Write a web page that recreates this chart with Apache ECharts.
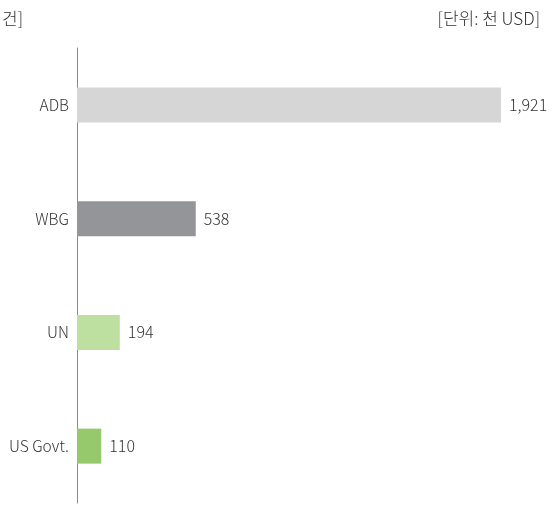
<!DOCTYPE html>
<html>
<head>
<meta charset="utf-8">
<script src="https://cdn.jsdelivr.net/npm/echarts@6/dist/echarts.min.js"></script>
<style>
  html, body { margin: 0; padding: 0; background: #fff; }
  #main { width: 552px; height: 505px; }
</style>
</head>
<body>
<div id="main"></div>
<script>
const categories = ['ADB', 'WBG', 'UN', 'US Govt.'];
const values = [1921, 538, 194, 110];
const colors = ['#d6d6d6', '#939598', '#bddf9f', '#95c96c'];

const font = '"Noto Sans CJK KR", "Noto Sans", sans-serif';
const chart = echarts.init(document.getElementById('main'));

const option = {
  animation: false,
  textStyle: { fontFamily: font },
  title: [
    {
      text: '건]',
      left: -3, top: 5,
      textStyle: { fontSize: 17, fontWeight: 300, color: '#333', fontFamily: font }
    },
    {
      text: '[단위: 천 USD]',
      right: 7, top: 5,
      textStyle: { fontSize: 17, fontWeight: 300, color: '#333', fontFamily: font }
    }
  ],
  grid: { left: 77, top: 48, width: 424, height: 455, containLabel: false },
  xAxis: {
    type: 'value',
    min: 0,
    max: 1921,
    show: false
  },
  yAxis: {
    type: 'category',
    inverse: true,
    data: categories,
    axisLine: { show: true, lineStyle: { color: '#8a8a8a', width: 1 } },
    axisTick: { show: false },
    axisLabel: { color: '#333', fontSize: 15.5, fontWeight: 300, margin: 8, fontFamily: font }
  },
  series: [{
    type: 'bar',
    barWidth: 35,
    data: values.map((v, i) => ({ value: v, itemStyle: { color: colors[i] } })),
    label: {
      show: true,
      position: 'right',
      distance: 8,
      color: '#333',
      fontSize: 16,
      fontWeight: 300,
      fontFamily: font,
      formatter: p => p.value.toLocaleString('en-US')
    }
  }]
};

chart.setOption(option);
</script>
</body>
</html>
